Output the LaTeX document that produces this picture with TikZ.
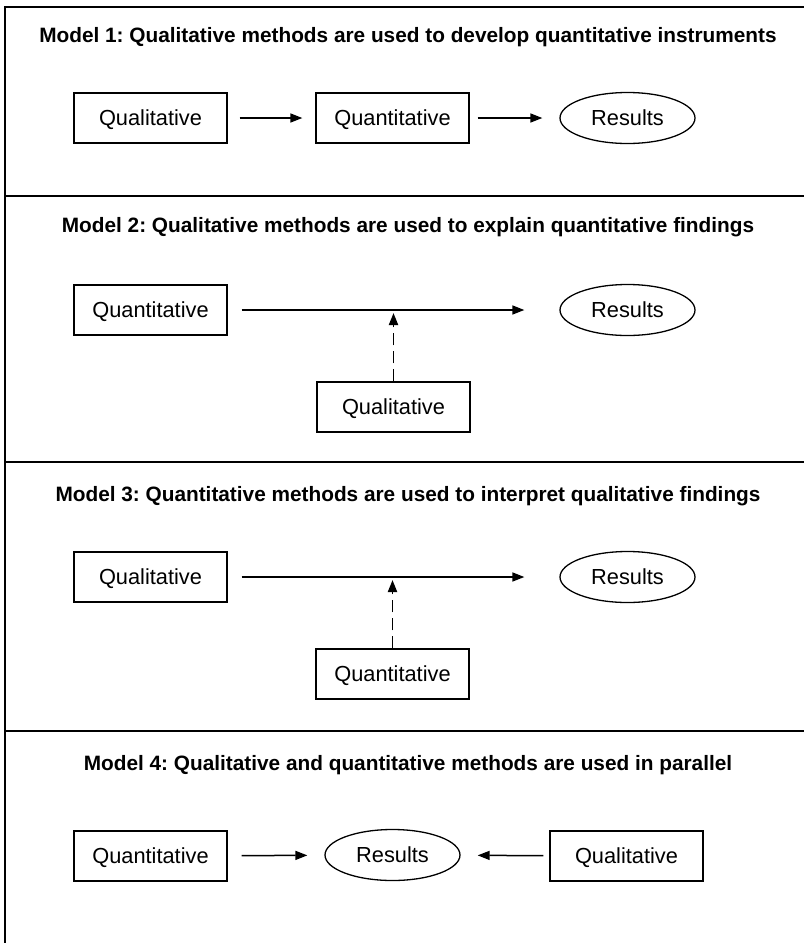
\documentclass[tikz,border=0pt]{standalone}
\usepackage{fontspec}
\setmainfont{Liberation Sans}
\usetikzlibrary{arrows.meta,shapes}

\begin{document}
\frenchspacing
\begin{tikzpicture}[x=1pt,y=-1pt,
  box/.style={draw, line width=1.3pt, minimum width=153pt, minimum height=50pt, inner sep=0pt, text depth=0pt},
  res/.style={draw, ellipse, line width=1.3pt, minimum width=135pt, minimum height=51pt, inner sep=0pt, text depth=0pt},
  arr/.style={-{Triangle[length=12pt,width=9pt]}, line width=1.5pt},
  dsh/.style={arr, line width=1.9pt, dash pattern=on 12pt off 6pt},
  ttl/.style={font=\fontsize{20.8}{24}\selectfont\bfseries}]

  \fontsize{21.8}{26}\selectfont
  \useasboundingbox (0,0) rectangle (804,943);

  %% frame
  \draw[line width=1.5pt] (5,943) -- (5,7) -- (804,7);
  \draw[line width=1.5pt] (5,196) -- (804,196);
  \draw[line width=1.5pt] (5,462) -- (804,462);
  \draw[line width=1.5pt] (5,731) -- (804,731);

  %% model 1
  \node[ttl] (t1) at (408,37) {Model 1: Qualitative methods are used to develop quantitative instruments};
  \node[box] (ql1) at (150.5,118) {Qualitative};
  \node[box] (qn1) at (392.5,118) {Quantitative};
  \node[res] (rs1) at (627.5,118) {Results};
  \draw[arr, shorten <=12pt, shorten >=13pt] (ql1) -- (qn1); %% ql->qn
  \draw[arr, shorten <=8pt, shorten >=17pt] (qn1) -- (rs1); %% qn->res

  %% model 2
  \node[ttl] (t2) at (408,227) {Model 2: Qualitative methods are used to explain quantitative findings};
  \node[box] (qn2) at (150.5,310) {Quantitative};
  \node[res] (rs2) at (627.5,310) {Results};
  \node[box] (ql2) at (393.5,407) {Qualitative};
  \coordinate (m2) at (393.5,310);
  \draw[arr, shorten <=14pt, shorten >=35pt] (qn2) -- (rs2);
  \draw[dsh, shorten >=3pt] (ql2) -- (m2);

  %% model 3
  \node[ttl] (t3) at (408,496) {Model 3: Quantitative methods are used to interpret qualitative findings};
  \node[box] (ql3) at (150.5,577) {Qualitative};
  \node[res] (rs3) at (627.5,577) {Results};
  \node[box] (qn3) at (392.5,674) {Quantitative};
  \coordinate (m3) at (392.5,577);
  \draw[arr, shorten <=14pt, shorten >=35pt] (ql3) -- (rs3);
  \draw[dsh, shorten >=3pt] (qn3) -- (m3);

  %% model 4
  \node[ttl] (t4) at (408,765) {Model 4: Qualitative and quantitative methods are used in parallel};
  \node[box] (qn4) at (150.5,856) {Quantitative};
  \node[res] (rs4) at (392.5,855) {Results};
  \node[box] (ql4) at (626.5,856) {Qualitative};
  \draw[arr, shorten <=14pt, shorten >=17pt] (qn4) -- (rs4);
  \draw[arr, shorten <=6pt, shorten >=17pt] (ql4) -- (rs4);
\end{tikzpicture}
\end{document}
